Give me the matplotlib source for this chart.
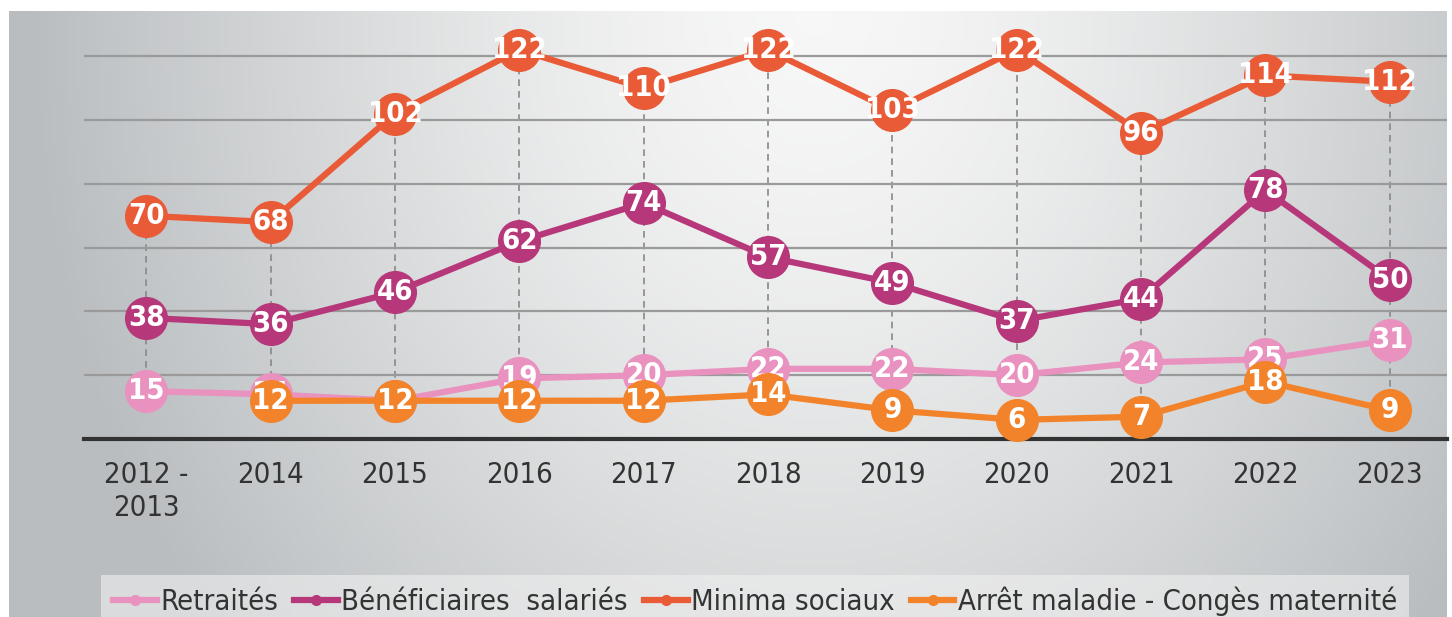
import matplotlib
matplotlib.use("Agg")
import matplotlib.pyplot as plt
from matplotlib.colors import LinearSegmentedColormap
import numpy as np

# donnees
annees = ["2012 -\n2013", "2014", "2015", "2016", "2017", "2018", "2019", "2020", "2021", "2022", "2023"]
retraites = [15, 14, 12, 19, 20, 22, 22, 20, 24, 25, 31]
beneficiaires = [38, 36, 46, 62, 74, 57, 49, 37, 44, 78, 50]
minima = [70, 68, 102, 122, 110, 122, 103, 122, 96, 114, 112]
arret = [np.nan, 12, 12, 12, 12, 14, 9, 6, 7, 18, 9]

noms = ["Retraités", "Bénéficiaires  salariés", "Minima sociaux", "Arrêt maladie - Congès maternité"]
couleurs = ["#e992bf", "#b6387a", "#e95b37", "#f2832a"]
series = [retraites, beneficiaires, minima, arret]

plt.rcParams["font.family"] = ["DejaVu Sans"]
plt.rcParams["font.stretch"] = "condensed"

fig = plt.figure(figsize=(14.52, 6.17), dpi=100)

# fond en degrade gris
fond = fig.add_axes([9 / 1452, 0, (1447 - 9) / 1452, (617 - 11) / 617], zorder=-5)
gx, gy = np.meshgrid(np.linspace(0, 1, 300), np.linspace(0, 1, 150))
dist = np.sqrt(((gx - 0.56) / 0.55) ** 2 + ((gy - 0.0) / 1.6) ** 2)
val = np.clip(1 - dist ** 1.5, 0, 1)
cmap = LinearSegmentedColormap.from_list("fond", ["#b9bdc0", "#d6d8d9", "#f7f7f7"])
fond.imshow(val, cmap=cmap, vmin=0, vmax=1, aspect="auto", extent=[0, 1, 1, 0])
fond.axis("off")

ax = fig.add_axes([84 / 1452, (617 - 439) / 617, (1447 - 84) / 1452, (439 - 18) / 617])
ax.patch.set_alpha(0)
x = np.arange(len(annees))

# lignes pointillees entre max et min
data = np.array(series, dtype=float)
ax.vlines(x, np.nanmin(data, axis=0), np.nanmax(data, axis=0), colors="#888888",
          linestyles=(0, (4, 3)), linewidth=1.2, zorder=1)

for i, (vals, c, nom) in enumerate(zip(series, couleurs, noms)):
    ax.plot(x, vals, color=c, linewidth=4.5, marker="o", markersize=30,
            zorder=3 + 2 * i, clip_on=False, label=nom)
    for xi, v in zip(x, vals):
        if np.isnan(v):
            continue
        ax.text(xi, v, str(int(v)), color="white", fontsize=21, fontweight="bold",
                ha="center", va="center", zorder=4 + 2 * i)

ax.set_xlim(-0.5, 10.46)
ax.set_ylim(0, 132)
ax.set_yticks([20, 40, 60, 80, 100, 120])
ax.grid(axis="y", color="#9a9a9a", linewidth=1.6, zorder=0)
ax.set_yticklabels([])
ax.tick_params(axis="y", length=0)
ax.set_xticks(x)
ax.set_xticklabels(annees, fontsize=21, color="#333333", linespacing=1.2, va="top")
ax.tick_params(axis="x", length=0, pad=16)
for s in ["top", "right", "left"]:
    ax.spines[s].set_visible(False)
ax.spines["bottom"].set_color("#333333")
ax.spines["bottom"].set_linewidth(3)

# legende
handles = [plt.Line2D([], [], color=c, linewidth=4.5, marker="o", markersize=7) for c in couleurs]
leg = fig.legend(handles, noms, loc="lower center", bbox_to_anchor=(0.52, -0.018), ncol=4,
                 frameon=True, fancybox=False, handlelength=1.5, handletextpad=0.12,
                 columnspacing=0.55, borderpad=0.4, borderaxespad=0, prop={"size": 21})
leg.get_frame().set_facecolor("#f0f0f0")
leg.get_frame().set_edgecolor("none")
leg.get_frame().set_alpha(0.6)
for t in leg.get_texts():
    t.set_color("#333333")

fig.savefig("out.png", dpi=100)
